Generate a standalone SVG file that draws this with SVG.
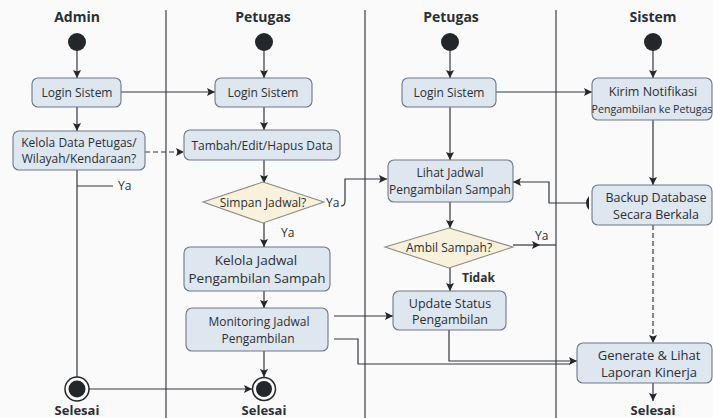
<svg xmlns="http://www.w3.org/2000/svg" width="713" height="418" viewBox="0 0 713 418">
  <style>
    .lane { stroke: #4a4e54; stroke-width: 1.3; fill: none; }
    .hdr { font-family: "Open Sans", "Noto Sans", sans-serif; font-weight: bold; font-size: 14px; fill: #2b2f36; text-anchor: middle; }
    .box { fill: #dee6ef; stroke: #6d7987; stroke-width: 1.1; }
    .dia { fill: #f8f1db; stroke: #8c8b82; stroke-width: 1.1; }
    .t { font-family: "Open Sans", "Noto Sans", sans-serif; font-size: 12px; fill: #2b2f36; text-anchor: middle; }
    .t125 { font-size: 12.5px; }
    .t13 { font-size: 13px; }
    .t135 { font-size: 13.5px; }
    .tsm { font-size: 10.6px; }
    .lbl { font-family: "Open Sans", "Noto Sans", sans-serif; font-size: 12px; fill: #2b2f36; }
    .bold { font-weight: bold; }
    .end { font-family: "Open Sans", "Noto Sans", sans-serif; font-weight: bold; font-size: 13px; fill: #2b2f36; text-anchor: middle; }
    .ln { stroke: #33373d; stroke-width: 1.2; fill: none; }
    .dash { stroke-dasharray: 5 3; }
    .dot { fill: #23262b; }
  </style>
  <defs>
    <marker id="arr" viewBox="0 0 10 10" refX="10" refY="5" markerWidth="10" markerHeight="8" markerUnits="userSpaceOnUse" orient="auto">
      <path d="M0,0 L10,5 L0,10 L2,5 z" fill="#23262b"/>
    </marker>
  </defs>

  <rect x="0" y="0" width="713" height="418" fill="#fafafa"/>

  <!-- swimlane dividers and headers -->
  <g id="lanes">
    <line class="lane" x1="166" y1="10" x2="166" y2="418"/>
    <line class="lane" x1="365" y1="10" x2="365" y2="418"/>
    <line class="lane" x1="556" y1="10" x2="556" y2="418"/>
    <text class="hdr" x="77" y="22">Admin</text>
    <text class="hdr" x="263" y="22">Petugas</text>
    <text class="hdr" x="451" y="22">Petugas</text>
    <text class="hdr" x="653" y="22">Sistem</text>
  </g>

  <!-- connectors -->
  <g id="connectors">
    <line class="ln" x1="77" y1="50" x2="77" y2="78" marker-end="url(#arr)"/>
    <line class="ln" x1="264" y1="50" x2="264" y2="78" marker-end="url(#arr)"/>
    <line class="ln" x1="450" y1="50" x2="450" y2="78" marker-end="url(#arr)"/>
    <line class="ln" x1="653" y1="50" x2="653" y2="78" marker-end="url(#arr)"/>

    <line class="ln" x1="121" y1="92" x2="215" y2="92" marker-end="url(#arr)"/>
    <line class="ln" x1="77" y1="107" x2="77" y2="131" marker-end="url(#arr)"/>
    <line class="ln dash" x1="145" y1="152" x2="184" y2="152" marker-end="url(#arr)"/>
    <line class="ln" x1="77" y1="170" x2="77" y2="377"/>
    <line class="ln" x1="77" y1="186" x2="113" y2="186"/>
    <line class="ln" x1="89" y1="389" x2="252" y2="389" marker-end="url(#arr)"/>

    <line class="ln" x1="264" y1="107" x2="264" y2="130" marker-end="url(#arr)"/>
    <line class="ln" x1="264" y1="160" x2="264" y2="183" marker-end="url(#arr)"/>
    <path class="ln" d="M341,206 Q345,206 345,201 L345,179 L387,179" marker-end="url(#arr)"/>
    <line class="ln" x1="264" y1="223" x2="264" y2="247" marker-end="url(#arr)"/>
    <line class="ln" x1="264" y1="291" x2="264" y2="308" marker-end="url(#arr)"/>
    <line class="ln" x1="264" y1="351" x2="264" y2="377" marker-end="url(#arr)"/>
    <line class="ln" x1="334" y1="316" x2="393" y2="316" marker-end="url(#arr)"/>
    <path class="ln" d="M334,339 L358,339 L358,364 L570,364"/>

    <line class="ln" x1="496" y1="92" x2="592" y2="92" marker-end="url(#arr)"/>
    <line class="ln" x1="450" y1="107" x2="450" y2="160" marker-end="url(#arr)"/>
    <line class="ln" x1="450" y1="202" x2="450" y2="228" marker-end="url(#arr)"/>
    <line class="ln" x1="513" y1="245" x2="540" y2="245" marker-end="url(#arr)"/>
    <line class="ln" x1="540" y1="245" x2="556" y2="245"/>
    <line class="ln" x1="450" y1="268" x2="450" y2="291" marker-end="url(#arr)"/>
    <path class="ln" d="M449,330 L449,361 L577,361" marker-end="url(#arr)"/>

    <line class="ln" x1="653" y1="120" x2="653" y2="185" marker-end="url(#arr)"/>
    <path class="ln" d="M586,203 L549,203 L549,182 L513,182" marker-end="url(#arr)"/>
    <path d="M589,196 Q583,203 589,210 Z" fill="#23262b"/>
    <line class="ln dash" x1="653" y1="225" x2="653" y2="343" marker-end="url(#arr)"/>
    <line class="ln" x1="653" y1="383" x2="653" y2="401" marker-end="url(#arr)"/>

    <text class="lbl" x="118" y="190">Ya</text>
    <text class="lbl" x="326" y="207">Ya</text>
    <text class="lbl" x="281" y="237">Ya</text>
    <text class="lbl" x="535" y="240">Ya</text>
    <text class="lbl bold" x="462" y="282">Tidak</text>
  </g>

  <!-- Admin lane -->
  <g id="admin-start"><circle class="dot" cx="77" cy="42" r="9"/></g>
  <g id="admin-login">
    <rect class="box" x="32" y="78" width="89" height="29" rx="6"/>
    <text class="t" x="77" y="96.5">Login Sistem</text>
  </g>
  <g id="admin-kelola">
    <rect class="box" x="13" y="131" width="132" height="39" rx="6"/>
    <text class="t" x="79" y="147">Kelola Data Petugas/</text>
    <text class="t" x="79" y="163">Wilayah/Kendaraan?</text>
  </g>
  <g id="admin-end">
    <circle cx="77" cy="389" r="12" fill="#fafafa" stroke="#23262b" stroke-width="1.5"/>
    <circle class="dot" cx="77" cy="389" r="8.5"/>
    <text class="end" x="77" y="415">Selesai</text>
  </g>

  <!-- Petugas lane (first) -->
  <g id="p1-start"><circle class="dot" cx="264" cy="42" r="9"/></g>
  <g id="p1-login">
    <rect class="box" x="215" y="78" width="97" height="29" rx="6"/>
    <text class="t" x="263" y="96.5">Login Sistem</text>
  </g>
  <g id="p1-tambah">
    <rect class="box" x="184" y="130" width="156" height="30" rx="6"/>
    <text class="t" x="262" y="149.5">Tambah/Edit/Hapus Data</text>
  </g>
  <g id="p1-simpan">
    <polygon class="dia" points="263,182 324,202 263,223 203,202"/>
    <text class="t" x="263" y="206.5">Simpan Jadwal?</text>
  </g>
  <g id="p1-kelola-jadwal">
    <rect class="box" x="184" y="247" width="146" height="44" rx="6"/>
    <text class="t t135" x="256" y="265">Kelola Jadwal</text>
    <text class="t t135" x="257" y="283">Pengambilan Sampah</text>
  </g>
  <g id="p1-monitoring">
    <rect class="box" x="186" y="308" width="142" height="43" rx="6"/>
    <text class="t" x="259" y="326">Monitoring Jadwal</text>
    <text class="t" x="258" y="343">Pengambilan</text>
  </g>
  <g id="p1-end">
    <circle cx="264" cy="389" r="11.5" fill="#fafafa" stroke="#23262b" stroke-width="1.5"/>
    <circle class="dot" cx="264" cy="389" r="8"/>
    <text class="end" x="264" y="415">Selesai</text>
  </g>

  <!-- Petugas lane (second) -->
  <g id="p2-start"><circle class="dot" cx="450" cy="42" r="9"/></g>
  <g id="p2-login">
    <rect class="box" x="402" y="78" width="94" height="29" rx="6"/>
    <text class="t" x="449" y="96.5">Login Sistem</text>
  </g>
  <g id="p2-lihat">
    <rect class="box" x="388" y="160" width="125" height="42" rx="6"/>
    <text class="t" x="450" y="177">Lihat Jadwal</text>
    <text class="t" x="450" y="194">Pengambilan Sampah</text>
  </g>
  <g id="p2-ambil">
    <polygon class="dia" points="449,228 513,247 449,268 385,247"/>
    <text class="t" x="449" y="252">Ambil Sampah?</text>
  </g>
  <g id="p2-update">
    <rect class="box" x="393" y="291" width="113" height="39" rx="6"/>
    <text class="t t125" x="450" y="307.5">Update Status</text>
    <text class="t t125" x="450" y="324">Pengambilan</text>
  </g>

  <!-- Sistem lane -->
  <g id="s-start"><circle class="dot" cx="653" cy="42" r="9"/></g>
  <g id="s-kirim">
    <rect class="box" x="592" y="78" width="120" height="42" rx="6"/>
    <text class="t t125" x="653" y="96">Kirim Notifikasi</text>
    <text class="t tsm" x="652" y="113">Pengambilan ke Petugas</text>
  </g>
  <g id="s-backup">
    <rect class="box" x="592" y="185" width="120" height="40" rx="6"/>
    <text class="t t125" x="656" y="202">Backup Database</text>
    <text class="t t125" x="656" y="219">Secara Berkala</text>
  </g>
  <g id="s-generate">
    <rect class="box" x="577" y="343" width="135" height="40" rx="6"/>
    <text class="t t13" x="649" y="360">Generate &amp; Lihat</text>
    <text class="t t13" x="649" y="377">Laporan Kinerja</text>
  </g>
  <g id="s-end">
    <text class="end" x="653" y="415">Selesai</text>
  </g>
</svg>
